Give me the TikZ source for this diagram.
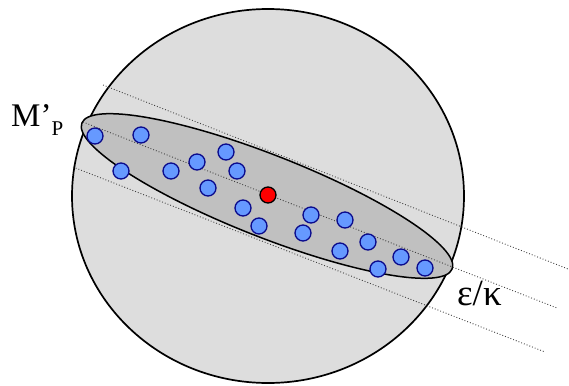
\documentclass[tikz,border=0pt]{standalone}
\usepackage{fontspec}
\setmainfont{Liberation Serif}
\usetikzlibrary{positioning}
\definecolor{ballgrey}{HTML}{DDDDDD}
\definecolor{setgrey}{HTML}{C0C0C0}
\definecolor{sampleblue}{HTML}{6699FF}
\definecolor{samplenavy}{HTML}{0A0A8C}
\definecolor{guidegrey}{HTML}{404040}
\tikzset{
  ball/.style={draw=black, line width=1.7pt, fill=ballgrey},
  slab/.style={draw=black, line width=1.5pt, fill=setgrey},
  guide/.style={draw=guidegrey, line width=0.9pt, dotted},
  sample/.style={circle, draw=samplenavy, line width=1.3pt, fill=sampleblue,
                 minimum size=16pt, inner sep=0pt},
  centre/.style={sample, draw=black, fill=red},
  lbl/.style={inner sep=0pt, font=\fontsize{33}{33}\selectfont},
}

\begin{document}
\begin{tikzpicture}[x=1pt, y=-1pt]
\useasboundingbox (0,0) rectangle (569,385);

% ---------- the ball and the thin set ---------------------------------
\draw[ball] (268,196) ellipse [x radius=196, y radius=187];
\draw[slab, rotate around={-21.5:(267,196)}]
   (267,196) ellipse [x radius=199, y radius=41];

% ---------- the three parallel guides ---------------------------------
\coordinate (tA) at (103,85);  \coordinate (tB) at (568,269);
\coordinate (mA) at (83,122);  \coordinate (mB) at (557,308);
\coordinate (bA) at (73,167);  \coordinate (bB) at (545,352);
\draw[guide] (tA) -- (tB);
\draw[guide] (mA) -- (mB);
\draw[guide] (bA) -- (bB);

% ---------- samples ------------------------------------------------------
\foreach \x/\y [count=\i] in {95/136,141/135,121/171,171/171,197/162,
    226/152,237/171,208/188,243/208,259/226,311/215,303/233,345/220,
    340/251,368/242,401/257,378/269,425/268}{
  \node[sample] (s\i) at (\x,\y) {};}
\node[centre] (c) at (268,195) {};

% ---------- labels -------------------------------------------------------
\node[lbl, anchor=base west] (mp) at (11,126)
   {M’\raisebox{-9pt}{\fontsize{21}{21}\selectfont P}};
\node[lbl, anchor=base west, font=\fontsize{37}{37}\selectfont] (ek)
   at (457,305) {ε/κ};
\end{tikzpicture}
\end{document}
